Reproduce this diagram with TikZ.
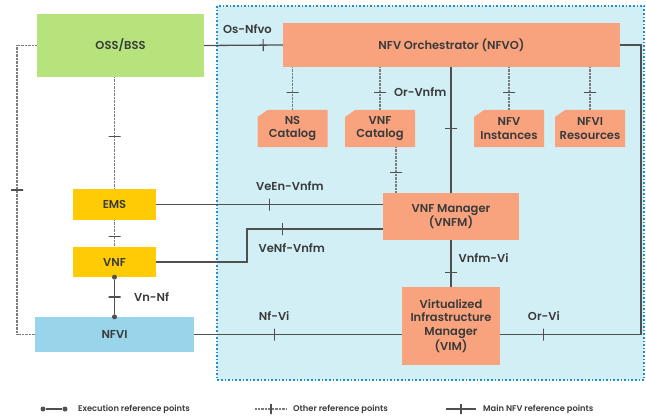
\documentclass[tikz,border=0pt]{standalone}
\usepackage{fontspec}
\setmainfont{Poppins}[BoldFont={Poppins SemiBold}]
\usetikzlibrary{positioning}

\definecolor{regionfill}{HTML}{D2EFF6}
\definecolor{regionline}{HTML}{1E90D2}
\definecolor{ossgreen}{HTML}{B6E37C}
\definecolor{nfvorange}{HTML}{F9A37E}
\definecolor{emsyellow}{HTML}{FFCB05}
\definecolor{nfviblue}{HTML}{98D4EA}
\definecolor{linegray}{HTML}{505050}
\definecolor{dotgray}{HTML}{7C7C7C}
\definecolor{txtgray}{HTML}{3A3A3A}

\begin{document}
\begin{tikzpicture}[x=1pt, y=-1pt,
  font=\fontsize{11.5}{13.3}\selectfont\bfseries, text=txtgray,
  box/.style = {inner sep=0pt, align=center},
  catalog/.style = {box, minimum width=70pt, minimum height=37pt,
    path picture={\fill[nfvorange] ([xshift=10pt]path picture bounding box.north west)
      -- (path picture bounding box.north east) -- (path picture bounding box.south east)
      -- (path picture bounding box.south west) -- ([yshift=-7pt]path picture bounding box.north west) -- cycle;}},
  main/.style = {draw=linegray, line width=1.3pt},
  other/.style = {draw=dotgray, line width=1.8pt, dash pattern=on 0.8pt off 0.6pt},
  xbar/.style = {solid, draw=linegray, line width=1.2pt, sloped, inner sep=0pt,
    minimum width=0pt, minimum height=12pt},
  dot/.style = {circle, fill=linegray, inner sep=0pt, minimum size=5pt},
  lbl/.style = {inner sep=0pt},
  legend/.style = {inner sep=0pt, font=\fontsize{8.3}{10}\selectfont\bfseries}]
	\useasboundingbox (0,0) rectangle (646,420);
	% NFV MANO region
	\fill[regionfill] (217,6) rectangle (644,380);
	\draw[regionline, line width=1.6pt, dotted] (217,6) rectangle (644,380);
	% blocks
	\node[box, fill=ossgreen, minimum width=167pt, minimum height=63pt] (oss) at (120.5,45.5) {OSS/BSS};
	\node[box, fill=nfvorange, minimum width=337pt, minimum height=44pt] (nfvo) at (451.5,45) {NFV Orchestrator (NFVO)};
	\node[catalog] (nscat) at (292.5,128.5) {NS\\Catalog};
	\node[catalog] (vnfcat) at (380,128.5) {VNF\\Catalog};
	\node[catalog] (nfvinst) at (509,128.5) {NFV\\Instances};
	\node[catalog] (nfvires) at (590,128.5) {NFVI\\Resources};
	\node[box, fill=nfvorange, minimum width=136pt, minimum height=47pt] (vnfm) at (451,216.5) {VNF Manager\\(VNFM)};
	\node[box, fill=nfvorange, minimum width=98pt, minimum height=78pt] (vim) [below of=vnfm, node distance=109.5pt] {Virtualized\\Infrastructure\\Manager\\(VIM)};
	\node[box, fill=emsyellow, minimum width=83pt, minimum height=31pt] (ems) at (114.5,204.5) {EMS};
	\node[box, fill=emsyellow, minimum width=83pt, minimum height=30pt] (vnf) [below of=ems, node distance=57.5pt] {VNF};
	\node[box, fill=nfviblue, minimum width=159pt, minimum height=35pt] (nfvi) at (114.5,334.5) {NFVI};
	% other reference points
	\foreach \c in {nscat, vnfcat, nfvinst, nfvires}
		\draw[other] (nfvo.south -| \c.north) -- node[xbar, pos=0.6]{} (\c.north);
	\coordinate (catout) at ([xshift=16pt]vnfcat.south);
	\draw[other] (catout) -- node[xbar, pos=0.56]{} (catout |- vnfm.north);
	\draw[other] (oss.south -| ems.north) -- node[xbar, pos=0.53]{} (ems.north);
	\draw[other] (ems.south) -- node[xbar, pos=0.6]{} (vnf.north);
	\coordinate (lft) at (17,190);
	\draw[other] (oss.west) -- (oss.west -| lft) -- node[xbar]{} (nfvi.west -| lft) -- (nfvi.west);
	% main reference points
	\draw[main] (oss.east) -- node[xbar, pos=0.75]{} node[lbl, above=11pt, pos=0.55]{Os-Nfvo} (nfvo.west);
	\draw[main] (nfvo.south -| vnfm.north) -- node[xbar, pos=0.49]{} node[lbl, left=4pt, pos=0.2]{Or-Vnfm} (vnfm.north);
	\draw[main] (vnfm.south) -- node[xbar, pos=0.7]{} node[lbl, right=7pt, pos=0.38]{Vnfm-Vi} (vim.north);
	\draw[main] (ems.east) -- node[xbar]{} node[lbl, above=13pt, pos=0.59]{VeEn-Vnfm} (ems.east -| vnfm.west);
	\coordinate (bend) at (247,0);
	\coordinate (vnfmin) at ([yshift=-12.5pt]vnfm.west);
	\draw[main] (vnf.east) -- (vnf.east -| bend) -- (vnfmin -| bend)
		-- node[xbar, pos=0.26]{} node[lbl, below=14pt, pos=0.33]{VeNf-Vnfm} (vnfmin);
	\draw[main] (nfvi.east) -- node[xbar, pos=0.385]{} node[lbl, above=13pt, pos=0.385]{Nf-Vi} (nfvi.east -| vim.west);
	\coordinate (orvi) at (641,45);
	\draw[main] (vim.east |- nfvi.east) -- node[xbar, pos=0.31]{} node[lbl, above=13pt, pos=0.31]{Or-Vi}
		(orvi |- nfvi.east) -- (orvi) -- (nfvo.east);
	% execution reference point
	\node[dot] (vnfdot) at (vnf.south) {};
	\node[dot] (nfvidot) at (nfvi.north) {};
	\draw[main] (vnfdot) -- node[xbar]{} node[lbl, right=19pt]{Vn-Nf} (nfvidot);
	% legend
	\node[dot] (exa) at (43,409) {};
	\node[dot] (exb) at (65,409) {};
	\draw[main] (exa) -- (exb);
	\node[legend, anchor=west] (exlbl) at (78,409) {Execution reference points};
	\coordinate (ota) at (255,409);
	\coordinate (otb) at (287,409);
	\draw[other] (ota) -- node[xbar, minimum height=10pt]{} (otb);
	\node[legend, right=6pt of otb] (otlbl) {Other reference points};
	\coordinate (mna) at (446,409);
	\coordinate (mnb) at (476,409);
	\draw[main] (mna) -- node[xbar, minimum height=10pt]{} (mnb);
	\node[legend, right=7pt of mnb] (mnlbl) {Main NFV reference points};
\end{tikzpicture}
\end{document}
